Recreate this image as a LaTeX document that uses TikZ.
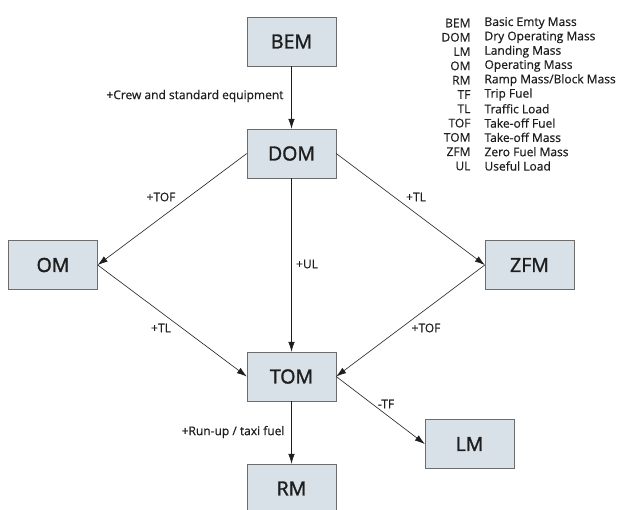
\documentclass[tikz,border=0pt]{standalone}
\usepackage{fontspec}
\setmainfont{Open Sans}
\newfontfamily\boxfont{Open Sans}[FakeBold=1.6]
\newfontfamily\lblfont{Open Sans}[FakeBold=0.6]
\usetikzlibrary{arrows.meta}
\definecolor{boxfill}{HTML}{D9E1E8}
\definecolor{ink}{HTML}{1E1E1E}
\tikzset{
  massbox/.style={draw=gray!85!black, fill=boxfill, text=ink, inner sep=0pt,
    minimum width=89pt, minimum height=49pt,
    font=\fontsize{19.5}{21}\selectfont\boxfont},
  flow/.style={-{Latex[length=10pt,width=6.5pt]}, ink, semithick},
  lbl/.style={text=ink, font=\fontsize{12}{14}\selectfont\lblfont}
}
\begin{document}
\begin{tikzpicture}[x=1pt,y=-1pt]
  \useasboundingbox (0,0) rectangle (620,509);
  % mass boxes
  \node[massbox] (bem) at (291.5,41.5) {BEM};
  \node[massbox] (dom) at (291.5,153.5) {DOM};
  \node[massbox] (om) at (53,265) {OM};
  \node[massbox] (zfm) at (529.5,265) {ZFM};
  \node[massbox] (tom) at (291.5,376.5) {TOM};
  \node[massbox] (lm) at (469.5,444) {LM};
  \node[massbox] (rm) at (291.5,488.5) {RM};
  % connectors
  \draw[flow] (bem) -- (dom);
  \draw[flow] (dom.west) -- (om.east);
  \draw[flow] (dom.east) -- (zfm.west);
  \draw[flow] (dom) -- (tom);
  \draw[flow] (om.east) -- (tom.west);
  \draw[flow] (zfm.west) -- (tom.east);
  \draw[flow] (tom) -- (rm);
  \draw[flow] (tom.east) -- (lm.west);
  % edge labels
  \node[lbl,anchor=east] (lcrew) at (287,96) {+Crew and standard equipment};
  \node[lbl] (ltof1) at (161,197) {+TOF};
  \node[lbl] (ltl1) at (416,197) {+TL};
  \node[lbl] (lul) at (307,264) {+UL};
  \node[lbl] (ltl2) at (161,328) {+TL};
  \node[lbl] (ltof2) at (426,328) {+TOF};
  \node[lbl] (ltf) at (386,404) {-TF};
  \node[lbl,anchor=east] (ltaxi) at (288,432) {+Run-up / taxi fuel};
  % legend
  \foreach \ab/\txt [count=\i from 0] in {BEM/Basic Emty Mass,DOM/Dry Operating Mass,
      LM/Landing Mass,OM/Operating Mass,RM/Ramp Mass\slash Block Mass,TF/Trip Fuel,
      TL/Traffic Load,TOF/Take-off Fuel,TOM/Take-off Mass,ZFM/Zero Fuel Mass,UL/Useful Load} {
    \node[lbl,anchor=east] (ab\i) at (474,{23+14.3*\i}) {\ab};
    \node[lbl,anchor=west] (tx\i) at (481,{23+14.3*\i}) {\txt};
  }
\end{tikzpicture}
\end{document}
